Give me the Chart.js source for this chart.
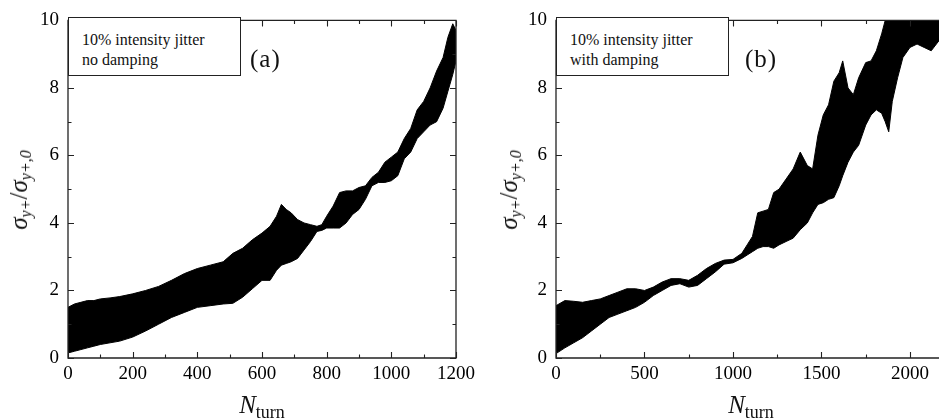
<!DOCTYPE html>
<html>
<head>
<meta charset="utf-8">
<script src="https://cdn.jsdelivr.net/npm/chart.js@4.4.1/dist/chart.umd.min.js"></script>
<style>
  html, body { margin: 0; padding: 0; background: #fff; }
  body { width: 939px; height: 419px; position: relative; overflow: hidden;
         font-family: "Liberation Serif", "Times New Roman", "DejaVu Serif", serif; color: #111; }
  .panel { position: absolute; top: 0; height: 419px; }
  #wrapA { left: 0; width: 500px; z-index: 1; }
  #wrapB { left: 469px; width: 470px; z-index: 2; }
  .note { position: absolute; z-index: 3; border: 1px solid #222; background: #fff;
          box-sizing: border-box; font-size: 16px; line-height: 20px; padding: 12px 0 0 13px; }
  .tag { position: absolute; z-index: 3; font-size: 25px; letter-spacing: 1px; line-height: 1; }
  .ytitle { position: absolute; z-index: 3; white-space: nowrap; font-size: 25px; line-height: 1;
            transform: translate(-50%, -50%) rotate(-90deg); }
  .ytitle sub { font-size: 16px; vertical-align: -0.25em; font-style: italic; }
  .xtitle { position: absolute; z-index: 3; white-space: nowrap; font-size: 25px; line-height: 1;
            transform: translateX(-50%); }
  .xtitle sub { font-size: 18px; vertical-align: -0.3em; }
</style>
</head>
<body>
<div class="panel" id="wrapA"><canvas id="chartA"></canvas></div>
<div class="panel" id="wrapB"><canvas id="chartB"></canvas></div>

<div class="note" style="left:68px; top:17px; width:173px; height:59px;">10% intensity jitter<br>no damping</div>
<div class="tag" style="left:250px; top:46px;">(a)</div>
<div class="note" style="left:556px; top:17px; width:173px; height:59px;">10% intensity jitter<br>with damping</div>
<div class="tag" style="left:745px; top:46px;">(b)</div>

<div class="ytitle" style="left:20px; top:190px;"><i>σ</i><sub>y+</sub>/<i>σ</i><sub>y+,0</sub></div>
<div class="ytitle" style="left:510px; top:190px;"><i>σ</i><sub>y+</sub>/<i>σ</i><sub>y+,0</sub></div>
<div class="xtitle" style="left:262px; top:392px;"><i>N</i><sub>turn</sub></div>
<div class="xtitle" style="left:751px; top:392px;"><i>N</i><sub>turn</sub></div>

<script>
(function () {
  'use strict';

  // panel (a): 10% intensity jitter, no damping -- band envelopes
  const aTurns = [0, 20, 40, 60, 80, 100, 130, 160, 200, 240, 280, 320, 360, 400, 440, 480, 510, 540, 570, 600,
    625, 645, 660, 675, 690, 710, 730, 750, 770, 785, 800, 820, 840, 860, 880, 900, 920, 940, 960, 980,
    1000, 1020, 1040, 1060, 1080, 1100, 1120, 1140, 1160, 1175, 1190, 1200];
  const aUpper = [1.5, 1.6, 1.65, 1.7, 1.7, 1.75, 1.78, 1.82, 1.9, 2.0, 2.12, 2.3, 2.5, 2.65, 2.75, 2.85, 3.1, 3.25, 3.5, 3.7,
    3.9, 4.2, 4.55, 4.4, 4.3, 4.1, 4.0, 3.95, 3.9, 3.95, 4.2, 4.5, 4.9, 4.95, 4.95, 5.05, 5.1, 5.35, 5.5, 5.8,
    5.95, 6.1, 6.5, 6.8, 7.35, 7.6, 8.0, 8.5, 8.9, 9.5, 9.9, 9.7];
  const aLower = [0.15, 0.2, 0.25, 0.3, 0.35, 0.4, 0.45, 0.5, 0.62, 0.8, 1.0, 1.2, 1.35, 1.5, 1.55, 1.6, 1.62, 1.8, 2.05, 2.3,
    2.3, 2.6, 2.75, 2.8, 2.85, 2.95, 3.2, 3.45, 3.75, 3.78, 3.85, 3.85, 3.85, 4.0, 4.25, 4.4, 4.7, 5.1, 5.2, 5.2,
    5.25, 5.4, 5.9, 6.1, 6.5, 6.7, 6.9, 7.0, 7.4, 7.9, 8.4, 8.8];
  const aTicks = [0, 200, 400, 600, 800, 1000, 1200];

  // panel (b): 10% intensity jitter, with damping
  const bTurns = [0, 50, 100, 150, 200, 250, 300, 350, 400, 450, 500, 550, 600, 650, 700, 750, 800, 850, 900, 950,
    1000, 1050, 1080, 1110, 1140, 1170, 1200, 1230, 1260, 1300, 1340, 1380, 1420, 1450, 1480, 1510, 1540, 1570, 1600, 1620,
    1650, 1680, 1710, 1750, 1780, 1810, 1840, 1860, 1880, 1900, 1930, 1960, 2000, 2040, 2080, 2120, 2164];
  const bUpper = [1.55, 1.7, 1.68, 1.65, 1.7, 1.75, 1.85, 1.95, 2.05, 2.05, 2.0, 2.1, 2.25, 2.35, 2.35, 2.3, 2.45, 2.65, 2.8, 2.9,
    2.92, 3.1, 3.35, 3.6, 4.3, 4.35, 4.4, 4.9, 5.0, 5.3, 5.6, 6.1, 5.7, 5.6, 6.6, 7.2, 7.5, 8.2, 8.45, 8.8,
    8.0, 7.8, 8.3, 8.75, 8.8, 9.1, 9.6, 10, 10, 10, 10, 10, 10, 10, 10, 10, 10];
  const bLower = [0.13, 0.3, 0.45, 0.6, 0.8, 1.0, 1.2, 1.3, 1.4, 1.5, 1.65, 1.85, 2.0, 2.15, 2.2, 2.1, 2.15, 2.35, 2.55, 2.78,
    2.82, 2.95, 3.05, 3.15, 3.25, 3.3, 3.3, 3.25, 3.35, 3.45, 3.55, 3.8, 4.0, 4.3, 4.55, 4.6, 4.7, 4.75, 5.1, 5.4,
    5.8, 6.1, 6.3, 6.9, 7.2, 7.35, 7.25, 7.0, 6.7, 7.6, 8.3, 8.9, 9.2, 9.3, 9.2, 9.1, 9.4];
  const bTicks = [0, 500, 1000, 1500, 2000];

  const yTicks = [0, 2, 4, 6, 8, 10];

  const tickFont = { family: '"Liberation Serif", "Times New Roman", "DejaVu Serif", serif', size: 19 };

  function pts(xs, ys) {
    return xs.map((x, i) => ({ x: x, y: ys[i] }));
  }

  // frame with inward ticks, major + minor
  const frameTicks = {
    id: 'frameTicks',
    afterDraw(chart, args, o) {
      const ctx = chart.ctx;
      const a = chart.chartArea;
      const x = chart.scales.x;
      const y = chart.scales.y;
      ctx.save();
      ctx.strokeStyle = '#222';
      ctx.lineWidth = 1.3;
      ctx.beginPath();
      if (o.right) {
        ctx.rect(a.left, a.top, a.right - a.left, a.bottom - a.top);
      } else {
        ctx.moveTo(a.right, a.top);
        ctx.lineTo(a.left, a.top);
        ctx.lineTo(a.left, a.bottom);
        ctx.lineTo(a.right, a.bottom);
      }
      ctx.stroke();
      ctx.lineWidth = 1.1;
      ctx.beginPath();
      for (let v = 0; v <= o.xEnd; v += o.xMinor) {
        const px = Math.round(x.getPixelForValue(v)) + 0.5;
        const len = v % o.xMajor === 0 ? 6 : 3.5;
        ctx.moveTo(px, a.bottom); ctx.lineTo(px, a.bottom - len);
        ctx.moveTo(px, a.top); ctx.lineTo(px, a.top + len);
      }
      for (let v = 0; v <= 10; v += 1) {
        const py = Math.round(y.getPixelForValue(v)) + 0.5;
        const len = v % 2 === 0 ? 6 : 3.5;
        ctx.moveTo(a.left, py); ctx.lineTo(a.left + len, py);
        if (o.right) { ctx.moveTo(a.right, py); ctx.lineTo(a.right - len, py); }
      }
      ctx.stroke();
      ctx.restore();
    }
  };

  function makeChart(id, cfg) {
    const canvas = document.getElementById(id);
    return new Chart(canvas.getContext('2d'), {
      type: 'line',
      data: {
        datasets: [{
          label: 'upper',
          data: pts(cfg.turns, cfg.upper),
          borderColor: '#000',
          borderWidth: 1,
          backgroundColor: '#000',
          fill: '+1',
          pointRadius: 0,
          tension: 0
        }, {
          label: 'lower',
          data: pts(cfg.turns, cfg.lower),
          borderColor: '#000',
          borderWidth: 1,
          backgroundColor: '#000',
          fill: false,
          pointRadius: 0,
          tension: 0
        }]
      },
      options: {
        responsive: false,
        animation: false,
        events: [],
        layout: { padding: { left: 0, right: cfg.padRight, top: 17, bottom: 0 } },
        scales: {
          x: {
            type: 'linear',
            min: 0,
            max: cfg.xMax,
            grid: { display: false, drawTicks: false },
            border: { display: false },
            ticks: {
              font: tickFont, color: '#000', padding: 5,
              maxRotation: 0, autoSkip: false, callback: v => String(v)
            },
            afterBuildTicks: s => { s.ticks = cfg.xTicks.map(v => ({ value: v })); },
            afterFit: s => { s.height = 61; }
          },
          y: {
            min: 0,
            max: 10,
            grid: { display: false, drawTicks: false },
            border: { display: false },
            ticks: { font: tickFont, color: '#000', padding: 9, autoSkip: false, callback: v => String(v) },
            afterBuildTicks: s => { s.ticks = yTicks.map(v => ({ value: v })); },
            afterFit: s => { s.width = cfg.yWidth; }
          }
        },
        plugins: {
          legend: { display: false },
          tooltip: { enabled: false },
          frameTicks: { xMinor: cfg.xMinor, xMajor: cfg.xMajor, xEnd: cfg.xMax, right: cfg.right }
        }
      },
      plugins: [frameTicks]
    });
  }

  const cA = document.getElementById('chartA');
  cA.width = 500; cA.height = 419;
  const cB = document.getElementById('chartB');
  cB.width = 470; cB.height = 419;

  makeChart('chartA', {
    turns: aTurns, upper: aUpper, lower: aLower, xTicks: aTicks,
    xMax: 1200, xMajor: 200, xMinor: 100,
    yWidth: 68, padRight: 44, right: true
  });
  makeChart('chartB', {
    turns: bTurns, upper: bUpper, lower: bLower, xTicks: bTicks,
    xMax: 2164, xMajor: 500, xMinor: 250,
    yWidth: 87, padRight: 0, right: false
  });
})();
</script>
</body>
</html>
